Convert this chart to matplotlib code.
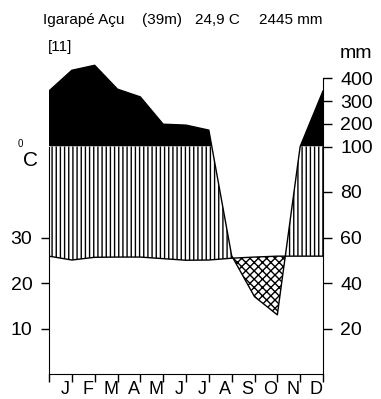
import numpy as np
import matplotlib
matplotlib.use("Agg")
import matplotlib.pyplot as plt
from matplotlib.transforms import blended_transform_factory

plt.rcParams['font.family'] = ['Liberation Sans', 'DejaVu Sans']
plt.rcParams['hatch.linewidth'] = 1.0

# monthly means, Igarapé Açu
months = ['J', 'F', 'M', 'A', 'M', 'J', 'J', 'A', 'S', 'O', 'N', 'D']
temp = [25.05, 25.65, 25.7, 25.7, 25.35, 25.0, 25.05, 25.45, 25.7, 25.9, 25.9, 25.9]
precip = [435, 457, 352, 318, 198, 194, 172, 52, 34, 26, 100, 344]

temp_ticks = [10, 20, 30]
precip_ticks = [20, 40, 60, 80, 100, 200, 300, 400]


def scale_mm(mm):
    # 20 mm = 10 C up to 100 mm, then 200 mm = 10 C
    mm = np.asarray(mm, dtype=float)
    return np.where(mm <= 100, mm / 2, 50 + (mm - 100) / 20)


# wrap december in front so the curves cover the full year
x = np.arange(13)
t_line = np.array([temp[-1]] + temp)
p_line = scale_mm([precip[-1]] + precip)

xs = np.linspace(0, 12, 2401)
t = np.interp(xs, x, t_line)
p = np.interp(xs, x, p_line)

fig = plt.figure(figsize=(3.81, 3.99), dpi=100)
ax = fig.add_axes([49 / 381, 25 / 399, 274 / 381, 318.5 / 399])
ax.set_xlim(0, 12)
ax.set_ylim(0, 70)

# perhumid part (above 100 mm) in black
ax.fill_between(xs, 50, p, where=p > 50, interpolate=True, color='black', lw=0)
# humid period
ax.fill_between(xs, t, np.minimum(p, 50), where=p >= t, interpolate=True,
                facecolor='white', edgecolor='black', hatch='||||', lw=0)
# dry period
ax.fill_between(xs, p, t, where=p < t, interpolate=True,
                facecolor='white', edgecolor='black', hatch='xxxx', lw=0)

ax.plot(x, t_line, color='black', lw=1)
ax.plot(x, p_line, color='black', lw=1)

# axes and ticks
ax.spines['top'].set_visible(False)
ax.spines['right'].set_visible(False)
ax.spines['left'].set_bounds(0, 50)
ax.set_xticks(range(13))
ax.set_xticklabels([])
ax.tick_params(axis='x', direction='out', length=6, width=1)
ax.set_yticks(temp_ticks)
ax.set_yticklabels([str(v) for v in temp_ticks], fontsize=14)
ax.tick_params(axis='y', direction='out', length=6, width=1, pad=6)

trans = blended_transform_factory(ax.transData, ax.transAxes)
for i, m in enumerate(months):
    ax.text(i + 1 - 0.3, -0.05, m, transform=trans, ha='center', va='center',
            fontsize=13)

ax2 = ax.twinx()
ax2.set_ylim(0, 70)
for side in ['top', 'left', 'bottom']:
    ax2.spines[side].set_visible(False)
ax2.spines['right'].set_bounds(0, 65)
ax2.set_yticks(scale_mm(precip_ticks))
ax2.set_yticklabels([str(v) for v in precip_ticks], fontsize=14)
ax2.tick_params(axis='y', direction='out', length=6.5, width=1, pad=6)

# labels and header
fig.text(31 / 381, 1 - 161 / 399, 'C', fontsize=15, ha='center', va='center')
fig.text(20 / 381, 1 - 144 / 399, '0', fontsize=7, ha='center', va='center')
fig.text(356 / 381, 1 - 53 / 399, 'mm', fontsize=14, ha='center', va='center')
fig.text(43 / 381, 1 - 20 / 399, 'Igarapé Açu', fontsize=11, ha='left', va='center')
fig.text(142 / 381, 1 - 20 / 399, '(39m)', fontsize=11, ha='left', va='center')
fig.text(195 / 381, 1 - 20 / 399, '24,9 C', fontsize=11, ha='left', va='center')
fig.text(259 / 381, 1 - 20 / 399, '2445 mm', fontsize=11, ha='left', va='center')
fig.text(48 / 381, 1 - 47 / 399, '[11]', fontsize=11, ha='left', va='center')

fig.savefig('out.png', dpi=100)
